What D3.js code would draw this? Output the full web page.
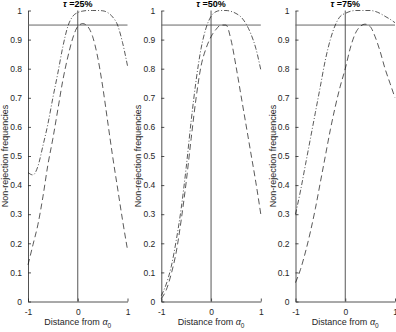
<!DOCTYPE html>
<html>
<head>
  <meta charset="utf-8">
  <title>Non-rejection frequencies</title>
  <script src="https://d3js.org/d3.v7.min.js"></script>
  <style>
    body { margin: 0; background: #fff; }
    text { font-family: "Liberation Sans", Arial, sans-serif; }
  </style>
</head>
<body>
<script>
// distance grid and the three quantile levels
var distance = [-1, -0.9, -0.8, -0.7, -0.6, -0.5, -0.4, -0.3, -0.2, -0.1, 0,
                0.1, 0.2, 0.3, 0.4, 0.5, 0.6, 0.7, 0.8, 0.9, 1];
var taus = ["25%", "50%", "75%"];

// dash-dot curves (upper) per panel
var dashDot25 = [0.443, 0.435, 0.465, 0.535, 0.61, 0.70, 0.785, 0.875, 0.945, 0.98, 0.993,
                 0.998, 1.0, 1.0, 1.0, 0.999, 0.993, 0.978, 0.95, 0.89, 0.81];
var dashDot50 = [0.02, 0.06, 0.12, 0.21, 0.32, 0.46, 0.62, 0.76, 0.87, 0.94, 0.98,
                 0.996, 1.0, 1.0, 0.997, 0.99, 0.978, 0.955, 0.92, 0.87, 0.796];
var dashDot75 = [0.30, 0.38, 0.47, 0.56, 0.65, 0.74, 0.83, 0.90, 0.95, 0.98, 0.99,
                 0.997, 1.0, 1.0, 1.0, 1.0, 0.997, 0.99, 0.98, 0.97, 0.958];

// dashed curves (lower) per panel
var dashed25 = [0.126, 0.195, 0.265, 0.36, 0.47, 0.56, 0.66, 0.76, 0.84, 0.905, 0.945,
                0.955, 0.945, 0.91, 0.84, 0.74, 0.62, 0.50, 0.39, 0.28, 0.178];
var dashed50 = [0.01, 0.04, 0.095, 0.17, 0.28, 0.41, 0.56, 0.70, 0.81, 0.87, 0.91,
                0.935, 0.95, 0.95, 0.90, 0.81, 0.71, 0.61, 0.51, 0.41, 0.30];
var dashed75 = [0.065, 0.11, 0.17, 0.24, 0.32, 0.41, 0.50, 0.59, 0.67, 0.74, 0.80,
                0.87, 0.92, 0.945, 0.953, 0.945, 0.91, 0.86, 0.80, 0.75, 0.70];

var dashDotSets = [dashDot25, dashDot50, dashDot75];
var dashedSets = [dashed25, dashed50, dashed75];

var yTicks = [0, 0.1, 0.2, 0.3, 0.4, 0.5, 0.6, 0.7, 0.8, 0.9, 1];
var xTicks = [-1, 0, 1];
var nominal = 0.95;

var W = 396, H = 332;
var axisColor = "#262626";
var panelLeft = [28, 161.3, 295.5];
var panelW = 99.5;
var plotTop = 10.5, plotBottom = 301.5;

// plain hyphen for negatives, like the original
var fmt = function(d) { return String(d); };

var svg = d3.select("body").append("svg")
  .attr("width", W).attr("height", H);

var y = d3.scaleLinear().domain([0, 1]).range([plotBottom, plotTop]);

taus.forEach(function(tau, i) {
  var x = d3.scaleLinear().domain([-1, 1]).range([panelLeft[i], panelLeft[i] + panelW]);
  var g = svg.append("g");

  // axes, ticks pointing inward like matlab
  var yAxis = g.append("g")
    .attr("transform", "translate(" + panelLeft[i] + ",0)")
    .call(d3.axisLeft(y).tickValues(yTicks).tickSizeInner(-3).tickSizeOuter(0)
      .tickPadding(6).tickFormat(fmt));
  var xAxis = g.append("g")
    .attr("transform", "translate(0," + plotBottom + ")")
    .call(d3.axisBottom(x).tickValues(xTicks).tickSizeInner(-3).tickSizeOuter(0)
      .tickPadding(6).tickFormat(fmt));

  [yAxis, xAxis].forEach(function(a) {
    a.selectAll("path").attr("stroke", axisColor).attr("stroke-width", 0.8);
    a.selectAll("line").attr("stroke", axisColor).attr("stroke-width", 0.8);
    a.selectAll("text").attr("fill", axisColor).attr("font-size", 8.5)
      .attr("font-family", "'Liberation Sans', Arial, sans-serif");
  });
  xAxis.selectAll("text").attr("dy", "0.9em");

  // reference lines
  g.append("line")
    .attr("x1", x(-1)).attr("x2", x(1))
    .attr("y1", y(nominal)).attr("y2", y(nominal))
    .attr("stroke", "#666").attr("stroke-width", 1);
  g.append("line")
    .attr("x1", x(0)).attr("x2", x(0))
    .attr("y1", y(0)).attr("y2", y(1))
    .attr("stroke", "#444").attr("stroke-width", 0.9);

  var line = d3.line()
    .x(function(d, j) { return x(distance[j]); })
    .y(function(d) { return y(d); })
    .curve(d3.curveMonotoneX);

  g.append("path")
    .attr("d", line(dashDotSets[i]))
    .attr("fill", "none").attr("stroke", "#111").attr("stroke-width", 0.7)
    .attr("stroke-dasharray", "5,2,1,2");
  g.append("path")
    .attr("d", line(dashedSets[i]))
    .attr("fill", "none").attr("stroke", "#111").attr("stroke-width", 0.7)
    .attr("stroke-dasharray", "6,3.5");

  // title
  var cx = x(0);
  var t = g.append("text")
    .attr("x", cx).attr("y", 6.5)
    .attr("text-anchor", "middle")
    .attr("font-size", 9).attr("font-weight", "bold").attr("fill", "#000");
  t.append("tspan").attr("font-style", "italic").text("\u03c4");
  t.append("tspan").text(" =" + tau);

  // y label
  g.append("text")
    .attr("transform", "translate(" + (panelLeft[i] - 20) + "," + ((plotTop + plotBottom) / 2) + ") rotate(-90)")
    .attr("text-anchor", "middle")
    .attr("font-size", 9).attr("fill", axisColor)
    .text("Non-rejection frequencies");

  // x label with alpha subscript
  var xl = g.append("text")
    .attr("x", cx).attr("y", 325)
    .attr("text-anchor", "middle")
    .attr("font-size", 9).attr("fill", axisColor);
  xl.append("tspan").text("Distance from ");
  xl.append("tspan").attr("font-style", "italic").text("\u03b1");
  xl.append("tspan").attr("font-size", 6.5).attr("dy", 2.5).text("0");
});
</script>
</body>
</html>
